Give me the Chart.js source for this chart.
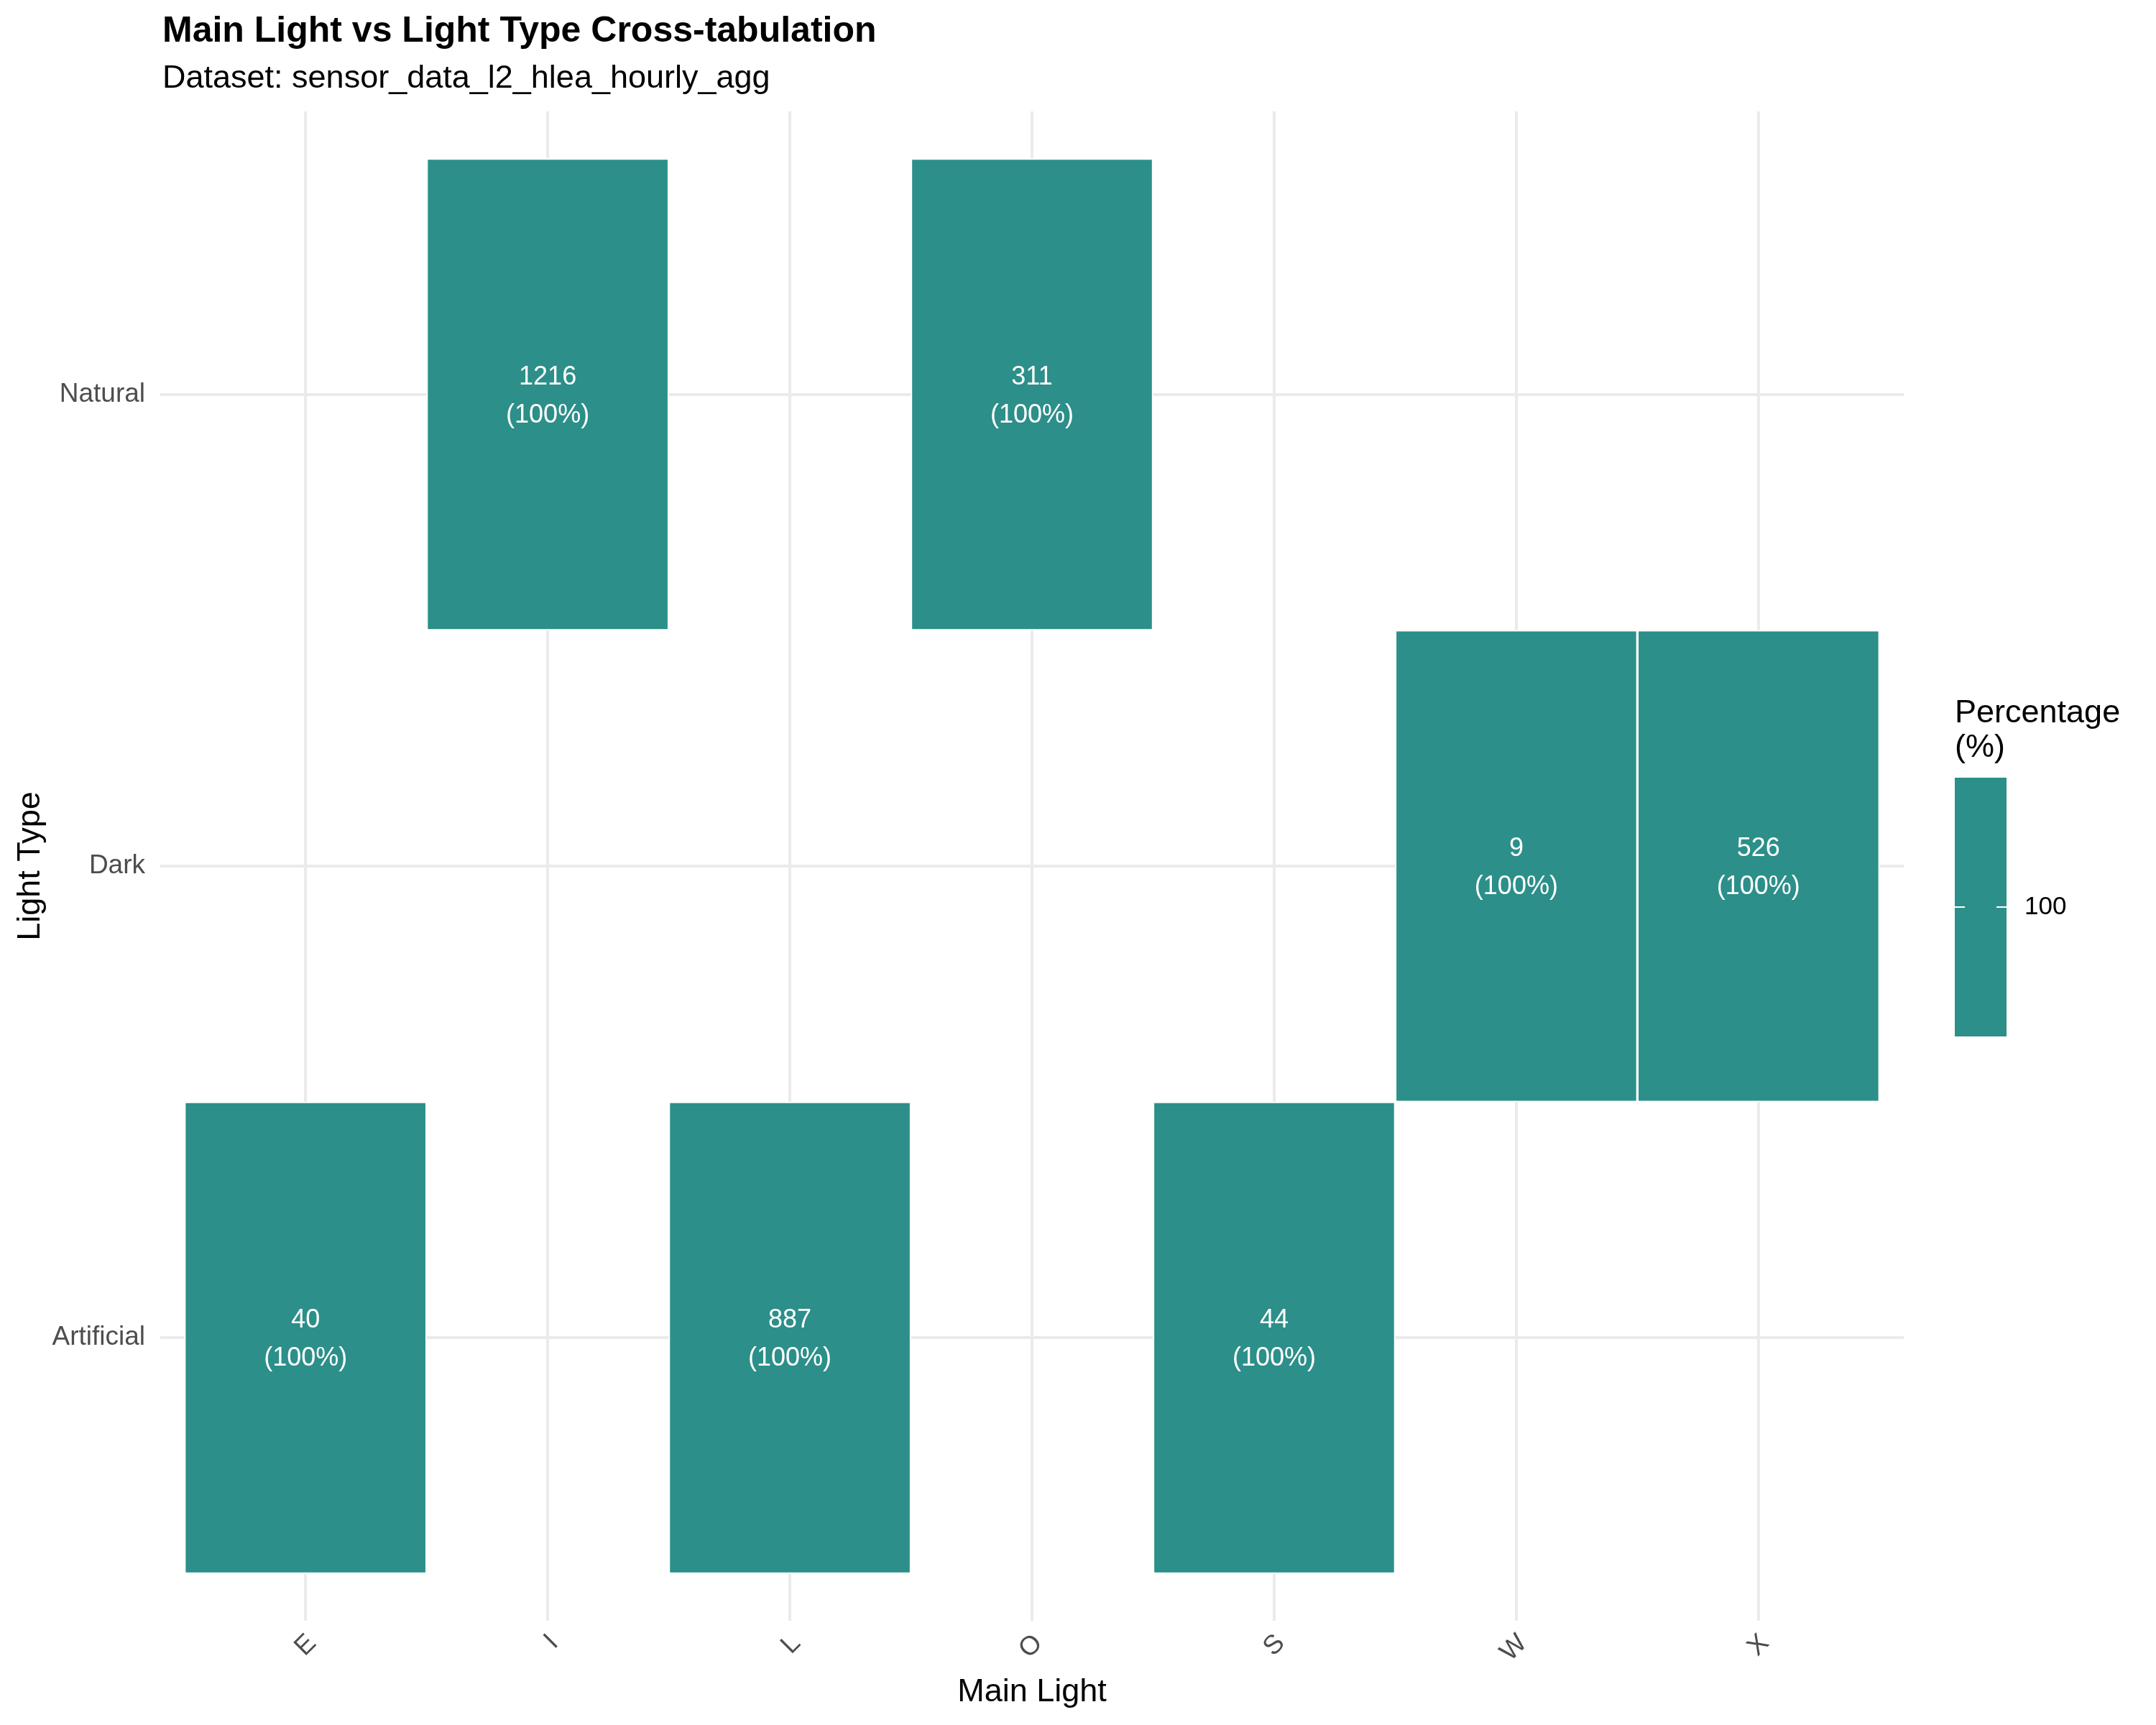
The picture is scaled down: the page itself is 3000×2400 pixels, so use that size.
<!DOCTYPE html>
<html>
<head>
<meta charset="utf-8">
<script src="https://cdn.jsdelivr.net/npm/chart.js@4.4.1/dist/chart.umd.min.js"></script>
<style>
  html, body { margin: 0; padding: 0; background: #ffffff; }
  #c { display: block; }
</style>
</head>
<body>
<canvas id="c" width="3000" height="2400"></canvas>
<script>
// ---- data ----
const mainLightCategories = ['E', 'I', 'L', 'O', 'S', 'W', 'X'];
const lightTypeCategories = ['Artificial', 'Dark', 'Natural'];
const cellMainLight = ['E', 'I', 'L', 'O', 'S', 'W', 'X'];
const cellLightType = ['Artificial', 'Natural', 'Artificial', 'Natural', 'Artificial', 'Dark', 'Dark'];
const cellCount = [40, 1216, 887, 311, 44, 9, 526];
const cellPercent = [100, 100, 100, 100, 100, 100, 100];
const legendTicks = [100];

const titleText = 'Main Light vs Light Type Cross-tabulation';
const subtitleText = 'Dataset: sensor_data_l2_hlea_hourly_agg';
const xTitle = 'Main Light';
const yTitle = 'Light Type';
const legendTitle = ['Percentage', '(%)'];

// ---- style ----
const FONT = "'Liberation Sans', Arial, Helvetica, sans-serif";
const TILE = 'rgb(44,143,137)';
const GRID = '#EBEBEB';
const AXIS_TEXT = '#4D4D4D';

const tileData = cellMainLight.map((m, i) => {
  const xi = mainLightCategories.indexOf(m);
  const yi = lightTypeCategories.indexOf(cellLightType[i]);
  return { x: xi, y: [yi - 0.5, yi + 0.5] };
});

const textPlugin = {
  id: 'extraText',
  afterDatasetsDraw(chart) {
    const ctx = chart.ctx;
    const xs = chart.scales.x, ys = chart.scales.y;
    ctx.save();
    ctx.fillStyle = '#ffffff';
    ctx.textAlign = 'center';
    ctx.textBaseline = 'alphabetic';
    ctx.font = `36px ${FONT}`;
    cellMainLight.forEach((m, i) => {
      const cx = xs.getPixelForValue(mainLightCategories.indexOf(m));
      const cy = ys.getPixelForValue(lightTypeCategories.indexOf(cellLightType[i]));
      ctx.fillText(String(cellCount[i]), cx, cy - 14);
      ctx.fillText('(' + cellPercent[i] + '%)', cx, cy + 39);
    });
    ctx.restore();
  },
  afterDraw(chart) {
    const ctx = chart.ctx;
    const area = chart.chartArea;
    ctx.save();
    // title & subtitle
    ctx.fillStyle = '#000000';
    ctx.textAlign = 'left';
    ctx.textBaseline = 'alphabetic';
    ctx.font = `bold 50px ${FONT}`;
    ctx.fillText(titleText, area.left + 3, 58);
    ctx.font = `45px ${FONT}`;
    ctx.fillText(subtitleText, area.left + 3, 122);
    // x axis title
    ctx.textAlign = 'center';
    ctx.font = `45px ${FONT}`;
    ctx.fillText(xTitle, (area.left + area.right) / 2, 2367);
    // y axis title
    ctx.save();
    ctx.translate(55, (area.top + area.bottom) / 2);
    ctx.rotate(-Math.PI / 2);
    ctx.textAlign = 'center';
    ctx.fillText(yTitle, 0, 0);
    ctx.restore();
    // legend
    const lx = 2720, ly = 1082, lw = 72, lh = 360;
    ctx.textAlign = 'left';
    ctx.font = `45px ${FONT}`;
    ctx.fillText(legendTitle[0], lx, 1005);
    ctx.fillText(legendTitle[1], lx, 1053);
    ctx.fillStyle = TILE;
    ctx.fillRect(lx, ly, lw, lh);
    const tickY = ly + lh / 2;
    ctx.strokeStyle = '#ffffff';
    ctx.lineWidth = 2;
    ctx.beginPath();
    ctx.moveTo(lx, tickY); ctx.lineTo(lx + 14, tickY);
    ctx.moveTo(lx + lw - 14, tickY); ctx.lineTo(lx + lw, tickY);
    ctx.stroke();
    ctx.fillStyle = '#000000';
    ctx.font = `35px ${FONT}`;
    ctx.textBaseline = 'middle';
    ctx.fillText(String(legendTicks[0]), lx + lw + 25, tickY);
    ctx.restore();
  }
};

new Chart(document.getElementById('c'), {
  type: 'bar',
  data: {
    datasets: [{
      data: tileData,
      backgroundColor: TILE,
      borderColor: '#ffffff',
      borderWidth: 2,
      borderSkipped: false,
      barPercentage: 1,
      categoryPercentage: 1
    }]
  },
  options: {
    responsive: false,
    animation: false,
    devicePixelRatio: 1,
    layout: { padding: { left: 0, top: 155, right: 351, bottom: 0 } },
    plugins: { legend: { display: false }, tooltip: { enabled: false }, title: { display: false } },
    scales: {
      x: {
        type: 'linear',
        min: -0.6,
        max: 6.6,
        offset: false,
        afterBuildTicks: (axis) => { axis.ticks = mainLightCategories.map((c, i) => ({ value: i })); },
        afterFit: (axis) => { axis.height = 145; },
        grid: { color: GRID, lineWidth: 4, drawTicks: false, offset: false },
        border: { display: false },
        ticks: {
          autoSkip: false,
          minRotation: 45,
          maxRotation: 45,
          padding: 10,
          labelOffset: 9,
          color: AXIS_TEXT,
          font: { family: FONT, size: 37 },
          callback: (v) => mainLightCategories[v]
        }
      },
      y: {
        type: 'linear',
        min: -0.6,
        max: 2.6,
        afterBuildTicks: (axis) => { axis.ticks = lightTypeCategories.map((c, i) => ({ value: i })); },
        afterFit: (axis) => { axis.width = 223; },
        grid: { color: GRID, lineWidth: 4, drawTicks: false },
        border: { display: false },
        ticks: {
          autoSkip: false,
          padding: 21,
          color: AXIS_TEXT,
          font: { family: FONT, size: 37 },
          callback: (v) => lightTypeCategories[v]
        }
      }
    }
  },
  plugins: [textPlugin]
});
</script>
</body>
</html>
